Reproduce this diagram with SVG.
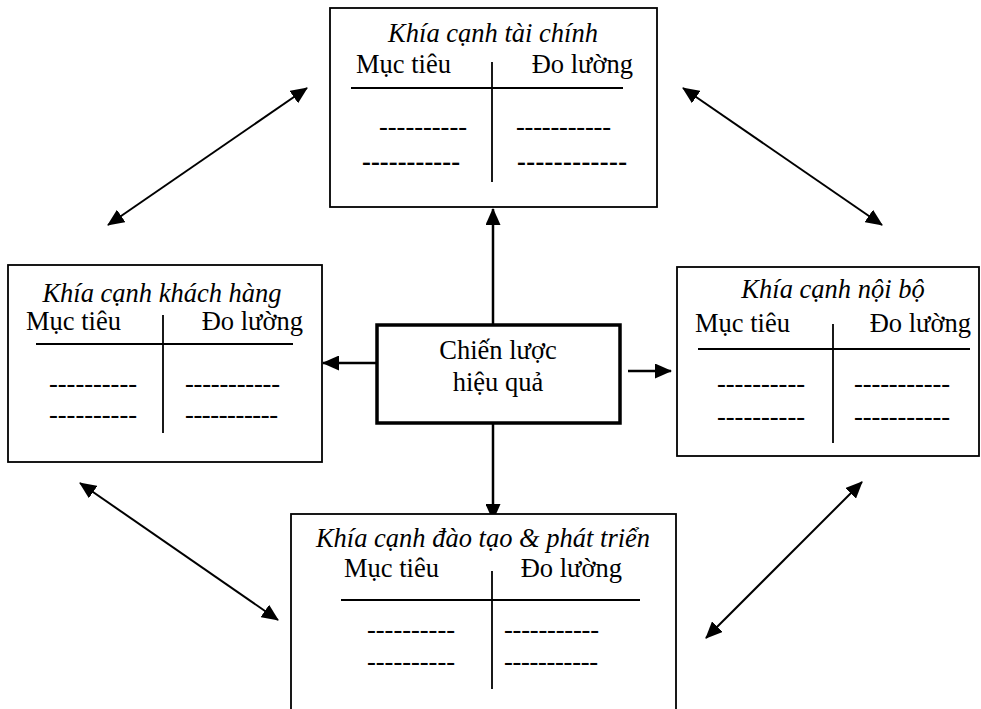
<svg xmlns="http://www.w3.org/2000/svg" width="981" height="709" viewBox="0 0 981 709">
<style>
text{font-family:"Liberation Serif","Times New Roman",serif;font-size:26.5px;fill:#000}
.t{font-style:italic;text-anchor:middle}
.e{text-anchor:end}
.m{text-anchor:middle}
.box{fill:#fff;stroke:#000;stroke-width:1.8}
.cbox{fill:#fff;stroke:#000;stroke-width:3.5}
.rule{stroke:#000;stroke-width:1.8;fill:none}
.c{stroke:#000;stroke-width:2.5;fill:none}
.d{stroke:#000;stroke-width:2;fill:none}
</style>
<defs>
<marker id="ah" markerUnits="userSpaceOnUse" markerWidth="17" markerHeight="15" refX="16" refY="7.5" orient="auto-start-reverse" viewBox="0 0 17 15">
<path d="M0,0 L17,7.5 L0,15 z" fill="#000"/>
</marker>
</defs>
<rect width="981" height="709" fill="#fff"/>

<g id="connectors">
<line class="c" x1="493" y1="325" x2="493" y2="209" marker-end="url(#ah)"/>
<line class="c" x1="493" y1="423" x2="493" y2="520" marker-end="url(#ah)"/>
<line class="c" x1="377" y1="363" x2="323" y2="363" marker-end="url(#ah)"/>
<line class="c" x1="628" y1="371" x2="671" y2="371" marker-end="url(#ah)"/>
<line class="d" x1="108" y1="225" x2="307" y2="88" marker-start="url(#ah)" marker-end="url(#ah)"/>
<line class="d" x1="683" y1="88" x2="882" y2="225" marker-start="url(#ah)" marker-end="url(#ah)"/>
<line class="d" x1="80" y1="483" x2="278" y2="620" marker-start="url(#ah)" marker-end="url(#ah)"/>
<line class="d" x1="862" y1="482" x2="706" y2="638" marker-start="url(#ah)" marker-end="url(#ah)"/>
</g>

<g id="node-taichinh">
<rect class="box" x="330" y="8" width="327" height="199"/>
<text class="t" x="493" y="42">Khía cạnh tài chính</text>
<text x="356" y="73">Mục tiêu</text>
<text class="e" x="633" y="73">Đo lường</text>
<line class="rule" x1="351" y1="88" x2="623" y2="88"/>
<line class="rule" x1="492" y1="62" x2="492" y2="182"/>
<text x="379" y="135" textLength="88" lengthAdjust="spacing">----------</text>
<text x="516" y="135" textLength="95" lengthAdjust="spacing">-----------</text>
<text x="362" y="170" font-weight="bold" textLength="98" lengthAdjust="spacing">-----------</text>
<text x="517" y="170" font-weight="bold" textLength="110" lengthAdjust="spacing">------------</text>
</g>

<g id="node-khachhang">
<rect class="box" x="8" y="265" width="314" height="197"/>
<text class="t" x="162" y="302">Khía cạnh khách hàng</text>
<text x="26" y="330">Mục tiêu</text>
<text class="e" x="303" y="330">Đo lường</text>
<line class="rule" x1="36" y1="344" x2="293" y2="344"/>
<line class="rule" x1="163" y1="315" x2="163" y2="433"/>
<text x="49" y="392" textLength="88" lengthAdjust="spacing">----------</text>
<text x="185" y="392" textLength="95" lengthAdjust="spacing">-----------</text>
<text x="49" y="423" textLength="88" lengthAdjust="spacing">----------</text>
<text x="185" y="423" textLength="93" lengthAdjust="spacing">-----------</text>
</g>

<g id="node-chienluoc">
<rect class="cbox" x="377" y="325" width="243" height="98"/>
<text class="m" x="498" y="359">Chiến lược</text>
<text class="m" x="498" y="391">hiệu quả</text>
</g>

<g id="node-noibo">
<rect class="box" x="677" y="267" width="302" height="189"/>
<text class="t" x="833" y="298">Khía cạnh nội bộ</text>
<text x="695" y="332">Mục tiêu</text>
<text class="e" x="971" y="332">Đo lường</text>
<line class="rule" x1="698" y1="349" x2="970" y2="349"/>
<line class="rule" x1="833" y1="324" x2="833" y2="443"/>
<text x="717" y="392" textLength="88" lengthAdjust="spacing">----------</text>
<text x="854" y="392" textLength="96" lengthAdjust="spacing">-----------</text>
<text x="717" y="425" textLength="88" lengthAdjust="spacing">----------</text>
<text x="854" y="425" textLength="96" lengthAdjust="spacing">-----------</text>
</g>

<g id="node-daotao">
<rect class="box" x="291" y="514" width="385" height="210"/>
<text class="t" x="483" y="547">Khía cạnh đào tạo &amp; phát triển</text>
<text x="344" y="577">Mục tiêu</text>
<text class="e" x="622" y="577">Đo lường</text>
<line class="rule" x1="341" y1="600" x2="640" y2="600"/>
<line class="rule" x1="492" y1="571" x2="492" y2="689"/>
<text x="367" y="638" textLength="88" lengthAdjust="spacing">----------</text>
<text x="504" y="638" textLength="95" lengthAdjust="spacing">-----------</text>
<text x="367" y="670" textLength="88" lengthAdjust="spacing">----------</text>
<text x="504" y="670" textLength="94" lengthAdjust="spacing">-----------</text>
</g>
</svg>
